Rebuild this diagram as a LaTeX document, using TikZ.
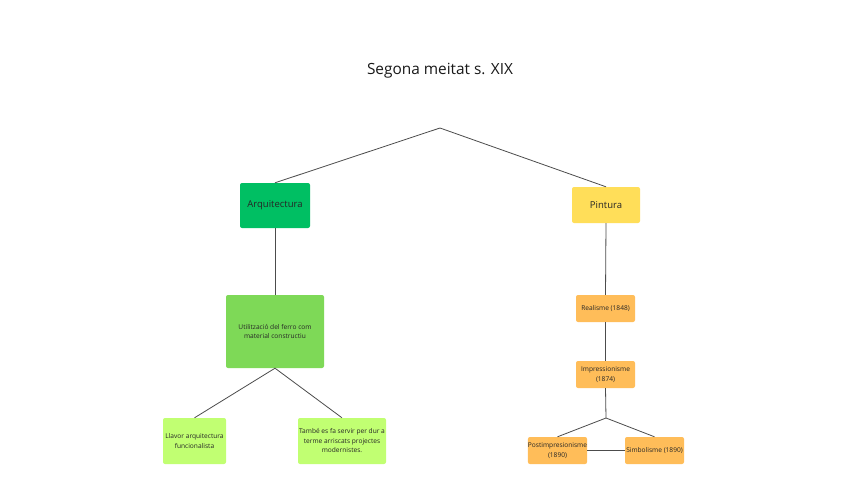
\documentclass[tikz,border=0pt]{standalone}
\usepackage{fontspec}
\setmainfont{Open Sans}
\begin{document}
\begin{tikzpicture}[x=1pt,y=-1pt,
  box/.style={rounded corners=2pt,inner sep=0pt,align=center,text=black!85},
  small/.style={font=\fontsize{6.6}{9.5}\selectfont},
  conn/.style={draw=black!70,line width=0.8pt}]
\definecolor{cgreen}{HTML}{00BF63}
\definecolor{cyellow}{HTML}{FFDE59}
\definecolor{cmid}{HTML}{7ED957}
\definecolor{clime}{HTML}{C1FF72}
\definecolor{corange}{HTML}{FFBD59}
\useasboundingbox[fill=white] (0,0) rectangle (848,477);
\node[text=black!90,font=\fontsize{15.4}{18}\selectfont] (title) at (440,71) {Segona meitat s. XIX};
\coordinate (apex) at (440,128);
\node[box,fill=cgreen,minimum width=70pt,minimum height=45pt,font=\fontsize{9.5}{11}\selectfont] (arq) at (275,205.5) {Arquitectura};
\node[box,fill=cyellow,minimum width=68pt,minimum height=36pt,font=\fontsize{9.5}{11}\selectfont] (pin) at (606,205) {Pintura};
\node[box,small,fill=cmid,minimum width=98pt,minimum height=73pt] (ferro) at (275,331.5) {Utilització del ferro com\\material constructiu};
\node[box,small,fill=clime,minimum width=63pt,minimum height=46pt] (llavor) at (194.5,441) {Llavor arquitectura\\funcionalista};
\node[box,small,fill=clime,minimum width=88pt,minimum height=46pt] (tambe) at (342,441) {També es fa servir per dur a\\terme arriscats projectes\\modernistes.};
\node[box,small,fill=corange,minimum width=59pt,minimum height=27pt] (real) at (605.5,308.5) {Realisme (1848)};
\node[box,small,fill=corange,minimum width=59pt,minimum height=27pt] (imp) at (605.5,374.5) {Impressionisme\\(1874)};
\node[box,small,fill=corange,minimum width=59pt,minimum height=27pt] (post) at (557.5,450.5) {Postimpresionisme\\(1890)};
\node[box,small,fill=corange,minimum width=59pt,minimum height=27pt] (simb) at (654.5,450.5) {Simbolisme (1890)};
\coordinate (fork) at (606,418);
\draw[conn] (arq.north) -- (apex) -- (pin.north);
\draw[conn] (arq.south) -- (ferro.north);
\draw[conn] (llavor.north) -- (ferro.south) -- (tambe.north);
\draw[conn] (pin.south) -- (real.north);
\draw[conn] (real.south) -- (imp.north);
\draw[conn] (imp.south) -- (fork);
\draw[conn] (post.north) -- (fork) -- (simb.north);
\draw[conn] (post.east) -- (simb.west);
\end{tikzpicture}
\end{document}
